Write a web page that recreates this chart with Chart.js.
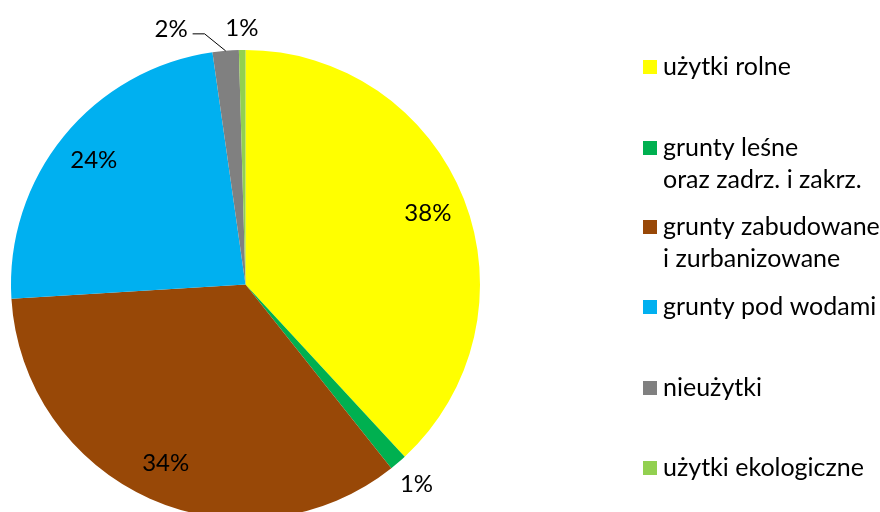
<!DOCTYPE html>
<html>
<head>
<meta charset="utf-8">
<script src="https://cdn.jsdelivr.net/npm/chart.js@4.4.1/dist/chart.umd.min.js"></script>
<style>
  html, body { margin: 0; padding: 0; background: #fff; overflow: hidden; }
  #wrap { width: 880px; height: 512px; overflow: hidden; }
</style>
</head>
<body>
<div id="wrap"><canvas id="chart" width="880" height="569"></canvas></div>
<script>
// land use shares (%)
const categories = [
  ['użytki rolne'],
  ['grunty leśne', 'oraz zadrz. i zakrz.'],
  ['grunty zabudowane', 'i zurbanizowane'],
  ['grunty pod wodami'],
  ['nieużytki'],
  ['użytki ekologiczne']
];
const shares = [38.1, 1.2, 34.7, 23.7, 1.8, 0.45];
const shareLabels = ['38%', '1%', '34%', '24%', '2%', '1%'];
const colors = ['#FFFF00', '#00B050', '#984807', '#00B0F0', '#808080', '#92D050'];

const LABEL_FONT = '24px Lato';
const LEGEND_FONT = '25px Lato';

// where each percentage goes: inside, outside, or outside with a leader line
const placement = ['in', 'out', 'in', 'in', 'leader', 'out'];
const outFactor = [0, 1.12, 0, 0, 0, 1.094];
const legendRows = [67, 148, 227, 307, 388, 468];

const labelPlugin = {
  id: 'pieLabels',
  afterDraw(chart) {
    const ctx = chart.ctx;
    const arcs = chart.getDatasetMeta(0).data;
    ctx.save();
    ctx.font = LABEL_FONT;
    ctx.fillStyle = '#000';
    ctx.textBaseline = 'middle';
    arcs.forEach((arc, i) => {
      const { x, y, startAngle, endAngle, outerRadius } = arc.getProps(['x', 'y', 'startAngle', 'endAngle', 'outerRadius'], true);
      const mid = (startAngle + endAngle) / 2;
      const cos = Math.cos(mid), sin = Math.sin(mid);
      if (placement[i] === 'in') {
        const d = outerRadius * 0.835;
        ctx.textAlign = 'center';
        ctx.fillText(shareLabels[i], x + d * cos, y + d * sin);
      } else if (placement[i] === 'out') {
        const d = outerRadius * outFactor[i];
        ctx.textAlign = 'center';
        ctx.fillText(shareLabels[i], x + d * cos, y + d * sin);
      } else {
        const ex = x + outerRadius * cos, ey = y + outerRadius * sin;
        const kx = ex - 21, ky = ey - 17;
        ctx.strokeStyle = '#000';
        ctx.lineWidth = 1;
        ctx.beginPath();
        ctx.moveTo(ex, ey);
        ctx.lineTo(kx, ky);
        ctx.lineTo(kx - 12, ky);
        ctx.stroke();
        ctx.textAlign = 'right';
        ctx.fillText(shareLabels[i], kx - 17, ky - 5);
      }
    });

    // legend on the right
    ctx.font = LEGEND_FONT;
    ctx.textAlign = 'left';
    categories.forEach((lines, i) => {
      const top = legendRows[i];
      ctx.fillStyle = colors[i];
      ctx.fillRect(643, top - 7, 14, 14);
      ctx.fillStyle = '#000';
      lines.forEach((t, j) => ctx.fillText(t, 663, top + j * 32));
    });
    ctx.restore();
  }
};

new Chart(document.getElementById('chart'), {
  type: 'pie',
  data: {
    labels: categories.map(l => l.join(' ')),
    datasets: [{
      data: shares,
      backgroundColor: colors,
      borderWidth: 0
    }]
  },
  options: {
    responsive: false,
    animation: false,
    devicePixelRatio: 1,
    layout: { padding: { left: 11, top: 11, bottom: 11, right: 400 } },
    plugins: {
      legend: { display: false },
      tooltip: { enabled: false }
    }
  },
  plugins: [labelPlugin]
});
</script>
</body>
</html>
